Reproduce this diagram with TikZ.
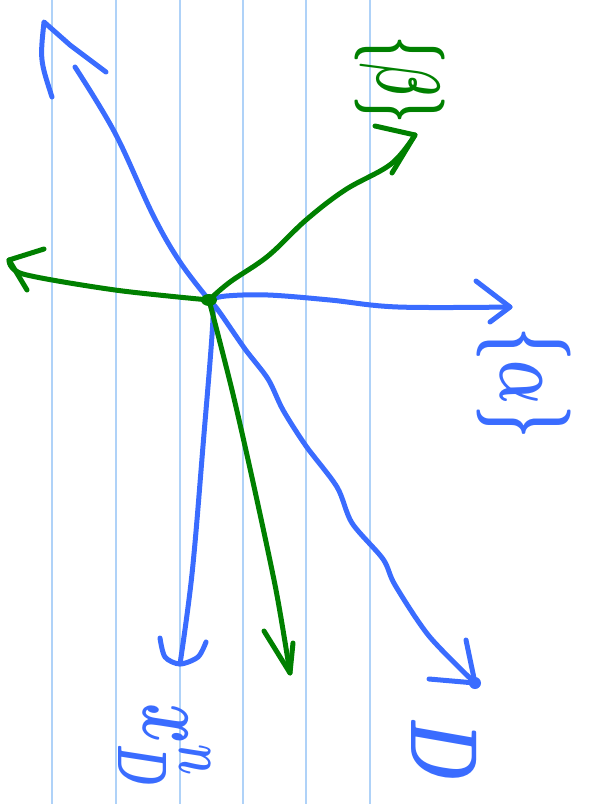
\RequirePackage{fix-cm}
\documentclass[tikz,border=0pt]{standalone}
\usepackage{graphicx}
\usepackage{bm}
\usepackage{tikz}
\definecolor{penblue}{RGB}{58,108,255}
\definecolor{pengreen}{RGB}{0,128,0}
\definecolor{ruleblue}{RGB}{175,210,248}
\begin{document}
\begin{tikzpicture}[x=1pt,y=-1pt,
bluepen/.style={draw=penblue, line width=5pt, line cap=round, line join=round},
greenpen/.style={draw=pengreen, line width=5pt, line cap=round, line join=round},
hand/.style={inner sep=0pt, rotate=-90}
]
\useasboundingbox (0,0) rectangle (597,804);
%Ruled paper
\foreach \x in {52,116,180,243,306,370}
  \draw[ruleblue, line width=1.6pt] (\x,0) -- (\x,804);
%Points
\coordinate (O) at (209,300);
\coordinate (tNW) at (44,22);
\coordinate (tE) at (510,307);
\coordinate (tD) at (475,683);
\coordinate (tS) at (180,664);
\coordinate (tNE) at (415,135);
\coordinate (tW) at (9,260);
\coordinate (tSS) at (290,673);
%Labels
\node[hand, text=pengreen, font=\fontsize{90}{90}\selectfont] (beta) at (400,80)
  {\scalebox{0.52}[1]{$\bm{\{\beta\}}$}};
\node[hand, text=penblue, font=\fontsize{94}{94}\selectfont] (alpha) at (524,383)
  {\scalebox{0.62}[1]{$\bm{\{\alpha\}}$}};
\node[hand, text=penblue, font=\fontsize{95}{95}\selectfont] (dlab) at (444,750)
  {\scalebox{0.7}[1]{$\bm{D}$}};
\node[hand, text=penblue, font=\fontsize{100}{100}\selectfont] (xlab) at (165,745)
  {\scalebox{0.62}[1]{$\bm{x^{n}_{D}}$}};
%Blue arrows
\draw[bluepen] plot[smooth, tension=0.6] coordinates
  {(O) (180,262) (153,215) (115,133) (75,67)};
\draw[bluepen] (52,97) .. controls (40,60) .. (tNW) -- (70,45) -- (106,72);
\draw[bluepen] plot[smooth, tension=0.6] coordinates
  {(O) (226,296) (268,295) (330,300) (398,307) (tE)};
\draw[bluepen] (476,281) -- (tE) -- (490,322);
\draw[bluepen] plot[smooth, tension=0.5] coordinates
  {(O) (218,310) (245,349) (268,379) (283,410) (306,446) (337,487)
   (352,523) (383,559) (395,585) (429,636) (tD)};
\draw[bluepen] (466,640) -- (tD) -- (429,679);
\fill[penblue] (tD) circle (6);
\draw[bluepen] plot[smooth, tension=0.6] coordinates
  {(O) (213,318) (203,446) (192,574) (tS)};
\draw[bluepen] plot[smooth] coordinates
  {(160,638) (165,657) (tS) (198,657) (206,642)};
%Green arrows
\draw[greenpen] plot[smooth, tension=0.6] coordinates
  {(O) (230,282) (268,256) (306,220) (345,190) (391,164) (tNE)};
\draw[greenpen] (375,126) -- (tNE) -- (392,173);
\draw[greenpen] plot[smooth, tension=0.5] coordinates
  {(O) (115,290) (23,274) (tW)};
\draw[greenpen] (44,249) -- (tW) -- (27,290);
\draw[greenpen] plot[smooth, tension=0.5] coordinates
  {(O) (232,390) (253,482) (276,590) (tSS)};
\draw[greenpen] (264,631) -- (tSS) -- (293,643);
\fill[pengreen] (O) ellipse (8 and 6);
\end{tikzpicture}
\end{document}
